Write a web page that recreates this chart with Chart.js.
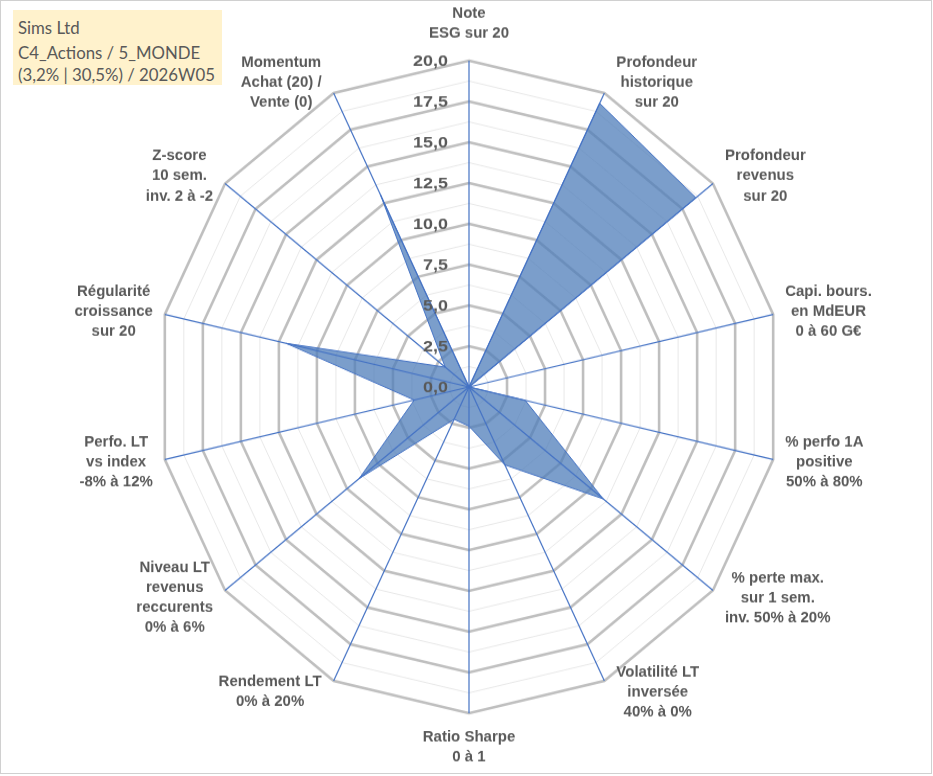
<!DOCTYPE html>
<html><head><meta charset="utf-8">
<script src="https://cdn.jsdelivr.net/npm/chart.js@4.4.1/dist/chart.umd.min.js"></script>
<style>
html,body{margin:0;padding:0;background:#fff;overflow:hidden;width:933px;height:776px;}
#wrap{position:absolute;left:0;top:0;width:933px;height:742px;transform:scaleY(1.0458);transform-origin:0 0;}
#frame{position:absolute;left:0;top:0;width:930px;height:772px;border:1px solid #D0D0D0;}
#title{position:absolute;left:13px;top:10px;width:204px;height:75px;background:#FFF2CC;color:#595959;
  font-family:Lato,"Open Sans",sans-serif;font-size:16.8px;padding-left:5px;}
#title div{position:absolute;left:5px;white-space:nowrap;}
</style></head><body>
<div id="wrap"><canvas id="c" width="933" height="742"></canvas></div>
<div id="frame"></div>
<div id="title"></div>
<script>
const categories = [
  ["Note","ESG sur 20"],
  ["Profondeur","historique","sur 20"],
  ["Profondeur","revenus","sur 20"],
  ["Capi. bours.","en MdEUR","0 à 60 G€"],
  ["% perfo 1A","positive","50% à 80%"],
  ["% perte max.","sur 1 sem.","inv. 50% à 20%"],
  ["Volatilité LT","inversée","40% à 0%"],
  ["Ratio Sharpe","0 à 1"],
  ["Rendement LT","0% à 20%"],
  ["Niveau LT","revenus","reccurents","0% à 6%"],
  ["Perfo. LT","vs index","-8% à 12%"],
  ["Régularité","croissance","sur 20"],
  ["Z-score","10 sem.","inv. 2 à -2"],
  ["Momentum","Achat (20) /","Vente (0)"]
];
const values = [0, 19.3, 18.6, 0, 3.7, 11.0, 5.3, 2.4, 2.2, 9.0, 3.6, 12.0, 1.95, 13.1];
const tickValues = [0, 2.5, 5, 7.5, 10, 12.5, 15, 17.5, 20];
const titleLines = ["Sims Ltd", "C4_Actions / 5_MONDE", "(3,2% | 30,5%) / 2026W05"];

const tEl = document.getElementById('title');
const tTops = [7, 32, 54];
titleLines.forEach((t, i) => { const d = document.createElement('div'); d.textContent = t; d.style.top = tTops[i] + 'px'; tEl.appendChild(d); });

const fmt = v => v.toFixed(1).replace('.', ',');
const TXT = '#595959';

const overlay = {
  id: 'overlay',
  afterDatasetsDraw(chart) {
    const s = chart.scales.r, c = chart.ctx;
    const outer = s.getDistanceFromCenterForValue(s.max);
    const n = categories.length;
    c.save();
    c.strokeStyle = '#4472C4'; c.lineWidth = 1.2;
    for (let i = 0; i < n; i++) {
      const p = s.getPointPosition(i, outer);
      c.beginPath(); c.moveTo(s.xCenter, s.yCenter); c.lineTo(p.x, p.y); c.stroke();
    }
    // tick labels
    c.font = 'bold 14px "Liberation Sans", Arial, sans-serif';
    c.fillStyle = TXT; c.textAlign = 'right'; c.textBaseline = 'middle';
    tickValues.forEach(v => {
      const p = s.getPointPositionForValue(0, v);
      c.save(); c.translate(s.xCenter - 21, p.y + 1); c.scale(1.28, 1);
      c.fillText(fmt(v), 0, 0); c.restore();
    });
    // point labels
    c.font = 'bold 15px "Liberation Sans", Arial, sans-serif';
    c.textAlign = 'center'; c.textBaseline = 'middle';
    const lh = 19.1;
    for (let i = 0; i < n; i++) {
      const lines = categories[i];
      const v = s.getPointPosition(i, outer);
      const th = i * 2 * Math.PI / n;
      const w = Math.max(...lines.map(l => c.measureText(l).width));
      let cx, cy0;
      if (i === 0) {
        cx = v.x; cy0 = v.y - 26 - (lines.length - 1) * lh;
      } else if (Math.abs(Math.sin(th)) < 1e-6) {
        cx = v.x; cy0 = v.y + 23;
      } else {
        const right = Math.sin(th) > 0;
        cx = right ? v.x + 12 + w / 2 : v.x - 12 - w / 2;
        const cy = v.y - 11.5 * Math.cos(th);
        cy0 = cy - (lines.length - 1) * lh / 2;
      }
      lines.forEach((l, k) => c.fillText(l, cx, cy0 + k * lh));
    }
    c.restore();
  }
};

new Chart(document.getElementById('c'), {
  type: 'radar',
  data: {
    labels: categories.map(l => l.join(' ')),
    datasets: [{
      data: values,
      backgroundColor: 'rgba(79,125,185,0.75)',
      borderColor: '#4472C4',
      borderWidth: 1,
      pointRadius: 0,
      fill: true
    }]
  },
  options: {
    responsive: false,
    animation: false,
    layout: { padding: { left: 157, right: 151, top: 58, bottom: 59 } },
    plugins: { legend: { display: false }, tooltip: { enabled: false } },
    scales: {
      r: {
        min: 0, max: 20,
        ticks: { display: false, stepSize: 1.25 },
        pointLabels: { display: false },
        angleLines: { display: false },
        grid: {
          circular: false,
          color: ctx => (ctx.tick && Math.abs(ctx.tick.value % 2.5) < 1e-6) ? '#BFBFBF' : '#E8E8E8',
          lineWidth: ctx => (ctx.tick && Math.abs(ctx.tick.value % 2.5) < 1e-6) ? 2.6 : 1
        }
      }
    }
  },
  plugins: [overlay]
});
</script>
</body></html>
